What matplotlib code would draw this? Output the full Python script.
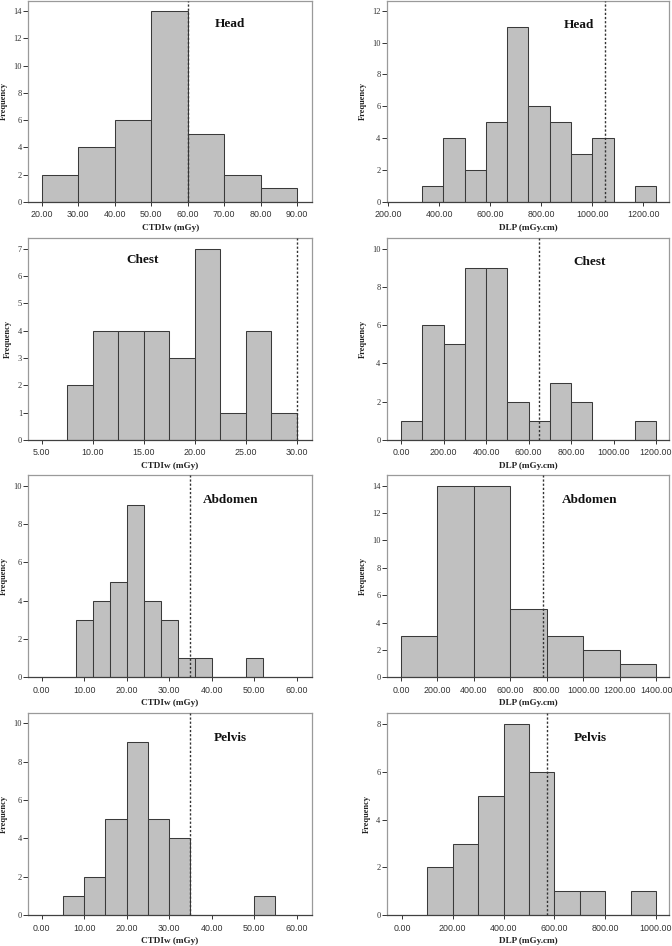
import numpy as np
import matplotlib
matplotlib.use("Agg")
import matplotlib.pyplot as plt

# ---------------- data ----------------
head_ctdi_edges = [20, 30, 40, 50, 60, 70, 80, 90]
head_ctdi_counts = [2, 4, 6, 14, 5, 2, 1]
head_ctdi_ref = 60

head_dlp_edges = [332, 415.5, 499, 582.5, 666, 749.5, 833, 916.5, 1000, 1083.5, 1167, 1250.5]
head_dlp_counts = [1, 4, 2, 5, 11, 6, 5, 3, 4, 0, 1]
head_dlp_ref = 1050

chest_ctdi_edges = [7.5, 10, 12.5, 15, 17.5, 20, 22.5, 25, 27.5, 30]
chest_ctdi_counts = [2, 4, 4, 4, 3, 7, 1, 4, 1]
chest_ctdi_ref = 30

chest_dlp_edges = [0, 100, 200, 300, 400, 500, 600, 700, 800, 900, 1000, 1100, 1200]
chest_dlp_counts = [1, 6, 5, 9, 9, 2, 1, 3, 2, 0, 0, 1]
chest_dlp_ref = 650

abd_ctdi_edges = [8, 12, 16, 20, 24, 28, 32, 36, 40, 44, 48, 52]
abd_ctdi_counts = [3, 4, 5, 9, 4, 3, 1, 1, 0, 0, 1]
abd_ctdi_ref = 35

abd_dlp_edges = [0, 200, 400, 600, 800, 1000, 1200, 1400]
abd_dlp_counts = [3, 14, 14, 5, 3, 2, 1]
abd_dlp_ref = 780

pel_ctdi_edges = [5, 10, 15, 20, 25, 30, 35, 40, 45, 50, 55]
pel_ctdi_counts = [1, 2, 5, 9, 5, 4, 0, 0, 0, 1]
pel_ctdi_ref = 35

pel_dlp_edges = [100, 200, 300, 400, 500, 600, 700, 800, 900, 1000]
pel_dlp_counts = [2, 3, 5, 8, 6, 1, 1, 0, 1]
pel_dlp_ref = 570

titles = ["Head", "Head", "Chest", "Chest", "Abdomen", "Abdomen", "Pelvis", "Pelvis"]
xlabels = ["CTDIw (mGy)", "DLP (mGy.cm)"] * 4
ylabel = "Frequency"

# ---------------- layout ----------------
W, H = 672, 946
fig = plt.figure(figsize=(W / 100, H / 100), dpi=100)
fig.patch.set_facecolor("white")

# pixel boxes (left, top, right, bottom)
boxes = [
    (28.3, 0.7, 312, 202), (386.7, 0.7, 669, 202),
    (28.3, 238.3, 311.7, 440), (386.7, 238.3, 669, 440),
    (28.3, 475, 311.7, 677.3), (386.7, 475, 669, 677.3),
    (28.3, 713.3, 311.7, 915.3), (386.7, 713.3, 669, 915.3),
]
xlims = [(16.33, 94.05), (193.7, 1300.8), (3.69, 31.47), (-67.3, 1261),
         (-3.15, 63.53), (-78.5, 1471), (-3.15, 63.53), (-60, 1051)]
ylims = [14.75, 12.63, 7.38, 10.54, 10.57, 14.78, 10.52, 8.45]
xticks = [np.arange(20, 91, 10), np.arange(200, 1201, 200), np.arange(5, 31, 5),
          np.arange(0, 1201, 200), np.arange(0, 61, 10), np.arange(0, 1401, 200),
          np.arange(0, 61, 10), np.arange(0, 1001, 200)]
ysteps = [2, 2, 1, 2, 2, 2, 2, 2]
ymaxtick = [14, 12, 7, 10, 10, 14, 10, 8]
title_pos = [(230, 24), (579, 24.5), (143, 260), (590, 262),
             (231, 500), (590, 500), (230.7, 737.7), (590, 737.7)]

datasets = [
    (head_ctdi_edges, head_ctdi_counts, head_ctdi_ref),
    (head_dlp_edges, head_dlp_counts, head_dlp_ref),
    (chest_ctdi_edges, chest_ctdi_counts, chest_ctdi_ref),
    (chest_dlp_edges, chest_dlp_counts, chest_dlp_ref),
    (abd_ctdi_edges, abd_ctdi_counts, abd_ctdi_ref),
    (abd_dlp_edges, abd_dlp_counts, abd_dlp_ref),
    (pel_ctdi_edges, pel_ctdi_counts, pel_ctdi_ref),
    (pel_dlp_edges, pel_dlp_counts, pel_dlp_ref),
]

SERIF = ["Liberation Serif", "DejaVu Serif"]
SANS = ["Liberation Sans", "DejaVu Sans"]

for i, (edges, counts, ref) in enumerate(datasets):
    l, t, r, b = boxes[i]
    ax = fig.add_axes([l / W, 1 - b / H, (r - l) / W, (b - t) / H])
    edges = np.asarray(edges, dtype=float)
    counts = np.asarray(counts, dtype=float)
    ax.bar(edges[:-1], counts, width=np.diff(edges), align="edge",
           color="#c0c0c0", edgecolor="#3a3a3a", linewidth=0.75, zorder=2)
    ax.axvline(ref, color="#333333", linewidth=1.0, linestyle=(0, (1.6, 1.4)), zorder=3)
    ax.set_xlim(*xlims[i])
    ax.set_ylim(0, ylims[i])
    ax.set_xticks(xticks[i])
    ax.set_xticklabels([f"{v:.2f}" for v in xticks[i]], fontfamily=SANS,
                       fontsize=6.4, color="#333333")
    yt = np.arange(0, ymaxtick[i] + 0.01, ysteps[i])
    ax.set_yticks(yt)
    ax.set_yticklabels([f"{int(v)}" for v in yt], fontfamily=SERIF,
                       fontsize=6.0, color="#333333")
    ax.tick_params(axis="x", length=3, width=0.7, color="#333333", pad=3)
    ax.tick_params(axis="y", length=3.5, width=0.7, color="#333333", pad=1)
    for side in ["left", "top", "right"]:
        ax.spines[side].set_color("#9a9a9a")
        ax.spines[side].set_linewidth(0.9)
    ax.spines["bottom"].set_color("#404040")
    ax.spines["bottom"].set_linewidth(0.9)
    ax.set_xlabel(xlabels[i], fontfamily=SERIF, fontweight="bold", fontsize=6.6,
                  color="#222222", labelpad=3)
    ax.set_ylabel(ylabel, fontfamily=SERIF, fontweight="bold", fontsize=6.0,
                  color="#222222", labelpad=4)
    tx, ty = title_pos[i]
    fig.text(tx / W, 1 - ty / H, titles[i], fontfamily=SERIF, fontweight="bold",
             fontsize=9.5, color="#111111", ha="center", va="center")

fig.savefig("out.png", dpi=100, facecolor="white")
